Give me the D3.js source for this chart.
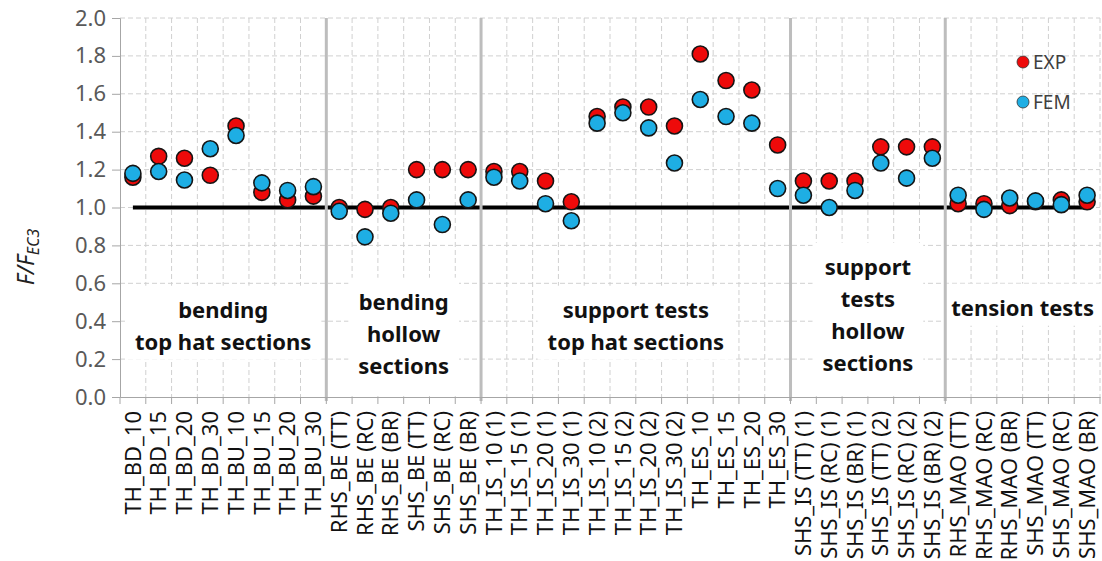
<!DOCTYPE html>
<meta charset="utf-8">
<style>
    body { margin: 0; background: #fff; }
    text { font-family: "Noto Sans", sans-serif; }
    .grid line { stroke: #d0d0d0; stroke-dasharray: 5,3; }
    .axis path, .axis line { stroke: #a6a6a6; }
</style>
<body>
<script src="https://d3js.org/d3.v7.min.js"></script>
<script>

    var width = 1102,
        height = 561;

    var categories = ["TH_BD_10", "TH_BD_15", "TH_BD_20", "TH_BD_30", "TH_BU_10", "TH_BU_15", "TH_BU_20", "TH_BU_30",
        "RHS_BE (TT)", "RHS_BE (RC)", "RHS_BE (BR)", "SHS_BE (TT)", "SHS_BE (RC)", "SHS_BE (BR)",
        "TH_IS_10 (1)", "TH_IS_15 (1)", "TH_IS_20 (1)", "TH_IS_30 (1)", "TH_IS_10 (2)", "TH_IS_15 (2)", "TH_IS_20 (2)", "TH_IS_30 (2)",
        "TH_ES_10", "TH_ES_15", "TH_ES_20", "TH_ES_30",
        "SHS_IS (TT) (1)", "SHS_IS (RC) (1)", "SHS_IS (BR) (1)", "SHS_IS (TT) (2)", "SHS_IS (RC) (2)", "SHS_IS (BR) (2)",
        "RHS_MAO (TT)", "RHS_MAO (RC)", "RHS_MAO (BR)", "SHS_MAO (TT)", "SHS_MAO (RC)", "SHS_MAO (BR)"];

    var expValues = [1.16, 1.27, 1.26, 1.17, 1.43, 1.08, 1.04, 1.06,
        1.00, 0.99, 1.00, 1.20, 1.20, 1.20,
        1.19, 1.19, 1.14, 1.03, 1.48, 1.53, 1.53, 1.43,
        1.81, 1.67, 1.62, 1.33,
        1.14, 1.14, 1.14, 1.32, 1.32, 1.32,
        1.02, 1.02, 1.01, 1.03, 1.04, 1.03];

    var femValues = [1.18, 1.19, 1.145, 1.31, 1.38, 1.13, 1.09, 1.11,
        0.98, 0.845, 0.97, 1.04, 0.91, 1.04,
        1.16, 1.14, 1.02, 0.93, 1.445, 1.50, 1.42, 1.235,
        1.57, 1.48, 1.445, 1.10,
        1.065, 1.00, 1.09, 1.235, 1.155, 1.26,
        1.065, 0.99, 1.05, 1.035, 1.015, 1.065];

    var yTicks = [0, 0.2, 0.4, 0.6, 0.8, 1.0, 1.2, 1.4, 1.6, 1.8, 2.0];

    // groups: label lines, first and last category index
    var groups = [
        {lines: ["bending", "top hat sections"], from: 0, to: 7, ty: 310, toAxis: false},
        {lines: ["bending", "hollow", "sections"], from: 8, to: 13, ty: 302, toAxis: true},
        {lines: ["support tests", "top hat sections"], from: 14, to: 25, ty: 310, toAxis: false},
        {lines: ["support", "tests", "hollow", "sections"], from: 26, to: 31, ty: 267, toAxis: true},
        {lines: ["tension tests"], from: 32, to: 37, ty: 308, toAxis: false}
    ];

    var series = [
        {name: "EXP", values: expValues, color: "#ee0a0a"},
        {name: "FEM", values: femValues, color: "#1eaee4"}
    ];

    var plotLeft = 120, plotRight = 1100, plotTop = 18, plotBottom = 397;

    var x = d3.scaleBand().domain(categories).range([plotLeft, plotRight]).padding(0);
    var y = d3.scaleLinear().domain([0, 2]).range([plotBottom, plotTop]);

    var svg = d3.select("body").append("svg")
        .attr("width", width)
        .attr("height", height);

    // dashed grid
    var grid = svg.append("g").attr("class", "grid");
    grid.selectAll(".h")
        .data(yTicks.slice(1))
        .enter().append("line")
        .attr("x1", plotLeft).attr("x2", plotRight)
        .attr("y1", function(d) { return y(d); })
        .attr("y2", function(d) { return y(d); });
    grid.selectAll(".v")
        .data(d3.range(1, categories.length + 1))
        .enter().append("line")
        .attr("x1", function(d) { return plotLeft + d * x.bandwidth(); })
        .attr("x2", function(d) { return plotLeft + d * x.bandwidth(); })
        .attr("y1", plotTop).attr("y2", plotBottom);

    // white boxes + group labels
    var labels = svg.append("g");
    groups.forEach(function(g) {
        var cx = (x(categories[g.from]) + x(categories[g.to]) + x.bandwidth()) / 2;
        var box = labels.append("rect").attr("fill", "#fff");
        var t = labels.append("text")
            .attr("text-anchor", "middle")
            .attr("font-size", 22)
            .attr("font-weight", "bold")
            .attr("fill", "#111");
        g.lines.forEach(function(l, i) {
            t.append("tspan")
                .attr("x", cx)
                .attr("y", g.ty + i * 32)
                .attr("dy", "0.35em")
                .text(l);
        });
        var bb = t.node().getBBox();
        var y0 = bb.y - 8;
        var y1 = g.toAxis ? plotBottom - 1 : bb.y + bb.height + 4;
        box.attr("x", bb.x - 10).attr("y", y0)
            .attr("width", bb.width + 20).attr("height", y1 - y0);
    });

    // reference line at 1.0
    svg.append("line")
        .attr("x1", x(categories[0]) + x.bandwidth() / 2)
        .attr("x2", x(categories[categories.length - 1]) + x.bandwidth() / 2)
        .attr("y1", y(1)).attr("y2", y(1))
        .attr("stroke", "#000")
        .attr("stroke-width", 4);

    // group separators
    svg.selectAll(".sep")
        .data(groups.slice(1))
        .enter().append("line")
        .attr("x1", function(d) { return x(categories[d.from]); })
        .attr("x2", function(d) { return x(categories[d.from]); })
        .attr("y1", plotTop).attr("y2", plotBottom + 4)
        .attr("stroke", "#bdbdbd")
        .attr("stroke-width", 3);

    // axes
    var yAxis = svg.append("g")
        .attr("class", "axis")
        .attr("transform", "translate(" + plotLeft + ",0)")
        .call(d3.axisLeft(y).tickValues(yTicks).tickFormat(d3.format(".1f")).tickSize(8).tickPadding(6));
    yAxis.selectAll("text")
        .attr("font-size", 22)
        .style("fill", "#595959");

    var xAxis = svg.append("g")
        .attr("class", "axis")
        .attr("transform", "translate(0," + plotBottom + ")")
        .call(d3.axisBottom(x).tickSize(0).tickPadding(0));
    xAxis.selectAll("text")
        .attr("font-size", 22)
        .style("fill", "#111")
        .attr("text-anchor", "end")
        .attr("transform", "rotate(-90)")
        .attr("x", -14)
        .attr("y", 0)
        .attr("dy", "0.35em");
    xAxis.selectAll(".btick")
        .data(d3.range(categories.length + 1))
        .enter().append("line")
        .attr("x1", function(d) { return plotLeft + d * x.bandwidth(); })
        .attr("x2", function(d) { return plotLeft + d * x.bandwidth(); })
        .attr("y1", 0).attr("y2", 7);

    // markers
    series.forEach(function(s) {
        svg.append("g")
            .selectAll("circle")
            .data(s.values)
            .enter().append("circle")
            .attr("cx", function(d, i) { return x(categories[i]) + x.bandwidth() / 2; })
            .attr("cy", function(d) { return y(d); })
            .attr("r", 8)
            .attr("fill", s.color)
            .attr("stroke", "#151515")
            .attr("stroke-width", 1.6);
    });

    // legend
    var legend = svg.append("g").selectAll("g")
        .data(series)
        .enter().append("g")
        .attr("transform", function(d, i) { return "translate(1023," + (62 + i * 40) + ")"; });
    legend.append("circle")
        .attr("r", 6)
        .attr("fill", function(d) { return d.color; })
        .attr("stroke", "#333")
        .attr("stroke-width", 0.8);
    legend.append("text")
        .attr("x", 10)
        .attr("dy", "0.35em")
        .attr("font-size", 19)
        .attr("fill", "#404040")
        .text(function(d) { return d.name; });

    // y title
    var yt = svg.append("text")
        .attr("transform", "translate(34,257) rotate(-90)")
        .attr("text-anchor", "middle")
        .attr("font-size", 23)
        .attr("font-style", "italic")
        .attr("fill", "#222");
    yt.append("tspan").text("F/F");
    yt.append("tspan").attr("font-size", 16).attr("dy", 5).text("EC3");

</script>
